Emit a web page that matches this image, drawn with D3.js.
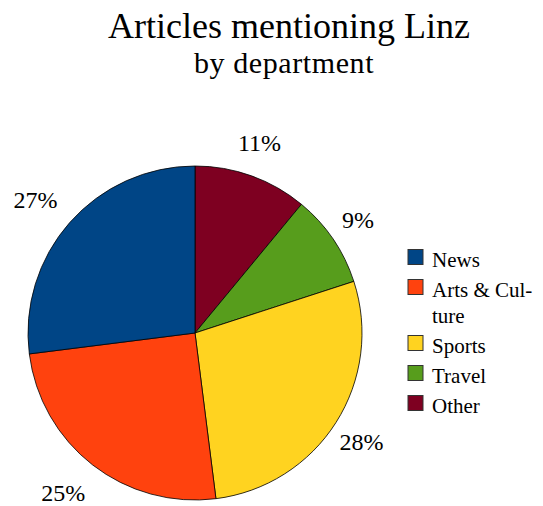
<!DOCTYPE html>
<html lang="en">
<head>
  <meta charset="UTF-8">
  <title>Articles mentioning Linz</title>
  <script src="https://cdn.jsdelivr.net/npm/d3@7"></script>
  <style>
    body { margin: 0; background: #fff; }
    text { font-family: "Liberation Serif", serif; fill: #000; }
  </style>
</head>
<body>
<div id="grafica"></div>
<script>
// data, clockwise from 12 o'clock
departments = ['Other', 'Travel', 'Sports', 'Arts & Culture', 'News']
shares      = [11, 9, 28, 25, 27]
colours     = ['#7e0021', '#579d1c', '#ffd320', '#ff420e', '#004586']

// legend order
legendOrder = ['News', 'Arts & Culture', 'Sports', 'Travel', 'Other']
legendLines = [['News'], ['Arts & Cul-', 'ture'], ['Sports'], ['Travel'], ['Other']]

ancho_total = 543
alto_total  = 506

svg = d3.select('#grafica')
  .append('svg')
  .attr('width', ancho_total)
  .attr('height', alto_total)

// title
svg.append('text')
  .attr('x', 289).attr('y', 38)
  .attr('text-anchor', 'middle')
  .style('font-size', '36px')
  .text('Articles mentioning Linz')

svg.append('text')
  .attr('x', 284).attr('y', 73)
  .attr('text-anchor', 'middle')
  .style('font-size', '30px')
  .style('letter-spacing', '0.6px')
  .text('by department')

// pie
radio = 167
g = svg.append('g')
  .attr('transform', 'translate(195,333)')

color = d3.scaleOrdinal().domain(departments).range(colours)

pie = d3.pie().sort(null).value(d => d.v)
data = departments.map((d, i) => ({ name: d, v: shares[i] }))
arcs = pie(data)

arc = d3.arc().innerRadius(0).outerRadius(radio)
labelArc = d3.arc().innerRadius(202).outerRadius(202)

g.selectAll('path')
  .data(arcs)
  .enter()
  .append('path')
    .attr('d', arc)
    .attr('fill', d => color(d.data.name))
    .attr('stroke', '#000')
    .attr('stroke-width', 0.8)

g.selectAll('text.pct')
  .data(arcs)
  .enter()
  .append('text')
    .attr('class', 'pct')
    .attr('transform', d => {
      c = labelArc.centroid(d)
      // labels on the left sit a little further out
      return 'translate(' + (c[0] < 0 ? c[0] - 8 : c[0] - 4) + ',' + c[1] + ')'
    })
    .attr('text-anchor', 'middle')
    .attr('dy', '0.35em')
    .style('font-size', '24px')
    .text(d => d.data.v + '%')

// legend
rowY = d3.scaleOrdinal().domain(legendOrder).range([257, 287, 343, 373, 403])

leg = svg.append('g')
legendOrder.forEach((name, i) => {
  y = rowY(name)
  leg.append('rect')
    .attr('x', 408).attr('y', y - 7.5)
    .attr('width', 15).attr('height', 15)
    .attr('fill', color(name))
    .attr('stroke', '#333')
    .attr('stroke-width', 1)
  legendLines[i].forEach((line, j) => {
    leg.append('text')
      .attr('x', 432).attr('y', y + 10 + j * 26)
      .style('font-size', '21px')
      .text(line)
  })
})
</script>
</body>
</html>
